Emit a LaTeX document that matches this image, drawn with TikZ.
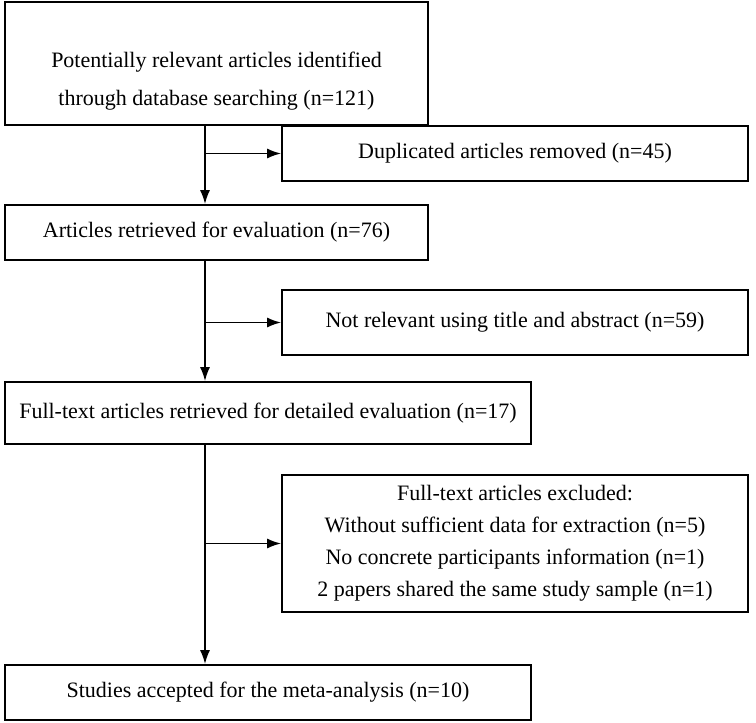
\documentclass[tikz,border=0pt]{standalone}
\usepackage{fontspec}
\setmainfont{Liberation Serif}
\usetikzlibrary{arrows.meta}
\begin{document}
\begin{tikzpicture}[x=1pt,y=-1pt,
  box/.style={draw,line width=1.6pt,font=\fontsize{22}{32}\selectfont,align=center},
  arr/.style={line width=1.8pt,-{Latex[length=14pt,width=10pt]}}]
\useasboundingbox (0,0) rectangle (756,723);
\node[box,minimum width=423,minimum height=123] (b1) at (216.5,63.5) {};
\node[font=\fontsize{22}{38}\selectfont,align=center] (t1txt) at (216.5,81) {Potentially relevant articles identified\\through database searching (n=121)};
\node[box,minimum width=466,minimum height=55] (b2) at (515,153.5) {Duplicated articles removed (n=45)};
\node[box,minimum width=423,minimum height=55] (b3) at (216.5,232.5) {Articles retrieved for evaluation (n=76)};
\node[box,minimum width=466,minimum height=65] (b4) at (515,322.5) {Not relevant using title and abstract (n=59)};
\node[box,minimum width=526,minimum height=62] (b5) at (268,413) {Full-text articles retrieved for detailed evaluation (n=17)};
\node[box,minimum width=466,minimum height=137] (b6) at (515,543.5) {Full-text articles excluded:\\Without sufficient data for extraction (n=5)\\No concrete participants information (n=1)\\2 papers shared the same study sample (n=1)};
\node[box,minimum width=526,minimum height=55] (b7) at (268,692.5) {Studies accepted for the meta-analysis (n=10)};
\coordinate (t1) at (205,125);
\coordinate (t3) at (205,260);
\coordinate (t5) at (205,444);
\draw[arr] (t1) -- (t1 |- b3.north);
\draw[arr] (t3) -- (t3 |- b5.north);
\draw[arr] (t5) -- (t5 |- b7.north);
\draw[arr] (t1 |- b2.west) -- (b2.west);
\draw[arr] (t1 |- b4.west) -- (b4.west);
\draw[arr] (t1 |- b6.west) -- (b6.west);
\end{tikzpicture}
\end{document}
